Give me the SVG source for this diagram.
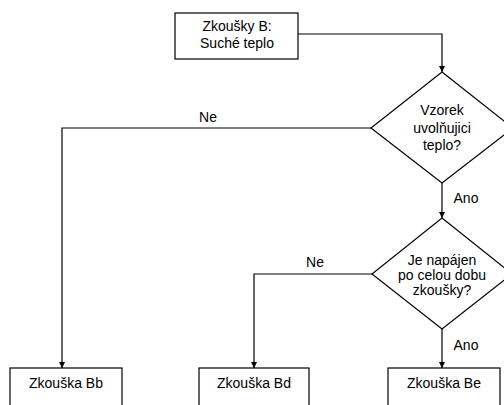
<svg xmlns="http://www.w3.org/2000/svg" width="504" height="405" viewBox="0 0 504 405">
<defs>
<marker id="arr" viewBox="0 0 10 10" refX="10" refY="5" markerWidth="6" markerHeight="10" markerUnits="userSpaceOnUse" orient="auto">
<path d="M0,0 L10,5 L0,10 z" fill="#000"/>
</marker>
<style>
.shape{fill:#fff;stroke:#000;stroke-width:1.2}
.line{fill:none;stroke:#000;stroke-width:1.2}
text{font-family:"Liberation Sans",Arial,sans-serif;font-size:14px;fill:#000;text-anchor:middle}
</style>
</defs>
<rect width="504" height="405" fill="#fff"/>
<g id="connectors">
<path class="line" d="M298,34 H442 V72" marker-end="url(#arr)"/>
<path class="line" d="M371,128 H62 V368" marker-end="url(#arr)"/>
<path class="line" d="M442,183 V218" marker-end="url(#arr)"/>
<path class="line" d="M372,274 H254 V368" marker-end="url(#arr)"/>
<path class="line" d="M442,329 V368" marker-end="url(#arr)"/>
<text x="208" y="122">Ne</text>
<text x="466" y="203">Ano</text>
<text x="315" y="267">Ne</text>
<text x="466" y="350">Ano</text>
</g>
<g id="start">
<rect class="shape" x="175" y="13" width="123" height="46"/>
<text x="237" y="31">Zkoušky B:</text>
<text x="237" y="48">Suché teplo</text>
</g>
<g id="decision1">
<polygon class="shape" points="442,72 513,128 442,183 371,128"/>
<text x="442" y="115">Vzorek</text>
<text x="442" y="133">uvolňujici</text>
<text x="442" y="150">teplo?</text>
</g>
<g id="decision2">
<polygon class="shape" points="442,218 512,274 442,329 372,274"/>
<text x="442" y="265">Je napájen</text>
<text x="442" y="280">po celou dobu</text>
<text x="442" y="295">zkoušky?</text>
</g>
<g id="bb">
<rect class="shape" x="10" y="368" width="112" height="50"/>
<text x="66" y="388">Zkouška Bb</text>
</g>
<g id="bd">
<rect class="shape" x="199" y="368" width="110" height="50"/>
<text x="254" y="388">Zkouška Bd</text>
</g>
<g id="be">
<rect class="shape" x="388" y="368" width="112" height="50"/>
<text x="444" y="388">Zkouška Be</text>
</g>
</svg>
